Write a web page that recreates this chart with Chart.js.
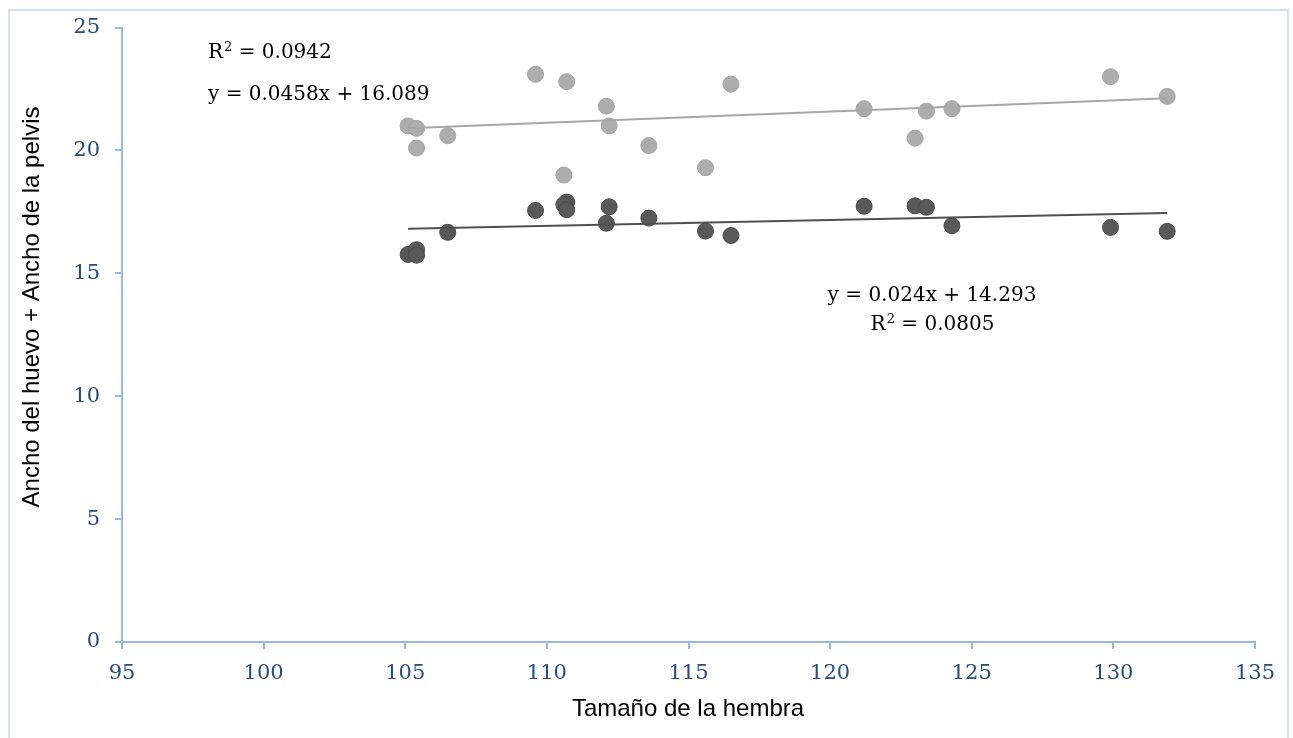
<!DOCTYPE html>
<html>
<head>
<meta charset="utf-8">
<script src="https://cdn.jsdelivr.net/npm/chart.js@4"></script>
<style>
    html, body { margin: 0; padding: 0; background: #ffffff; }
    #wrap { position: relative; width: 1293px; height: 738px; overflow: hidden; }
    #frame { position: absolute; left: 8px; top: 9px; width: 1281px; height: 740px; border: 2px solid #D5E1F0; box-sizing: border-box; }
    #chart { position: absolute; left: 0; top: 0; }
</style>
</head>
<body>
<div id="wrap">
    <div id="frame"></div>
    <canvas id="chart" width="1293" height="738"></canvas>
</div>
<script>
// Tamaño de la hembra (x) for each series
const lightX = [105.1, 105.4, 105.4, 106.5, 109.6, 110.7, 110.6, 112.1, 112.2, 113.6, 115.6, 116.5, 121.2, 123.0, 123.4, 124.3, 129.9, 131.9];
const lightY = [21.0, 20.9, 20.1, 20.6, 23.1, 22.8, 19.0, 21.8, 21.0, 20.2, 19.3, 22.7, 21.7, 20.5, 21.6, 21.7, 23.0, 22.2];

const darkX = [105.1, 105.4, 105.4, 106.5, 109.6, 110.7, 110.6, 110.7, 112.2, 112.1, 113.6, 115.6, 116.5, 121.2, 123.0, 123.4, 124.3, 129.9, 131.9];
const darkY = [15.77, 15.96, 15.74, 16.67, 17.56, 17.90, 17.80, 17.59, 17.71, 17.04, 17.25, 16.72, 16.54, 17.73, 17.75, 17.69, 16.94, 16.87, 16.71];

// trendline coefficients as printed on the chart
const lightFit = [0.0458, 16.089];
const darkFit = [0.024, 14.293];

const xTicks = [95, 100, 105, 110, 115, 120, 125, 130, 135];
const yTicks = [0, 5, 10, 15, 20, 25];

const AXIS_COLOR = '#95B9E5';
const TICK_COLOR = '#244C7E';
const EQ_FONT = '20px "DejaVu Serif"';

function toPoints(xs, ys) {
    return xs.map((x, i) => ({ x: x, y: ys[i] }));
}

function trend(xs, fit) {
    const lo = Math.min(...xs), hi = Math.max(...xs);
    return [{ x: lo, y: fit[0] * lo + fit[1] }, { x: hi, y: fit[0] * hi + fit[1] }];
}

// draws R² with a raised 2
function drawR2(ctx, x, y, value, align) {
    const small = '13px "DejaVu Serif"';
    ctx.font = EQ_FONT;
    const wR = ctx.measureText('R').width;
    const rest = ' = ' + value;
    const wRest = ctx.measureText(rest).width;
    ctx.font = small;
    const w2 = ctx.measureText('2').width;
    let start = x;
    if (align === 'center') start = x - (wR + w2 + wRest) / 2;
    ctx.textAlign = 'left';
    ctx.font = EQ_FONT;
    ctx.fillText('R', start, y);
    ctx.font = small;
    ctx.fillText('2', start + wR + 1, y - 7);
    ctx.font = EQ_FONT;
    ctx.fillText(rest, start + wR + w2 + 1, y);
}

const labelsPlugin = {
    id: 'labels',
    afterDraw(chart) {
        const ctx = chart.ctx;
        ctx.save();
        ctx.fillStyle = '#000000';
        ctx.textBaseline = 'alphabetic';

        // equations
        drawR2(ctx, 208, 58, '0.0942', 'left');
        ctx.font = EQ_FONT;
        ctx.textAlign = 'left';
        ctx.fillText('y = 0.0458x + 16.089', 208, 100);

        ctx.textAlign = 'center';
        ctx.fillText('y = 0.024x + 14.293', 932, 301);
        drawR2(ctx, 932, 330, '0.0805', 'center');

        // axis titles
        ctx.font = '24px "Liberation Sans", Arial, sans-serif';
        ctx.textAlign = 'center';
        ctx.fillText('Tamaño de la hembra', 688, 716);

        ctx.translate(39, 307);
        ctx.rotate(-Math.PI / 2);
        ctx.fillText('Ancho del huevo + Ancho de la pelvis', 0, 0);
        ctx.restore();
    }
};

const ctx = document.getElementById('chart').getContext('2d');

new Chart(ctx, {
    type: 'scatter',
    data: {
        datasets: [{
            label: 'trend light',
            data: trend(lightX, lightFit),
            showLine: true,
            borderColor: '#A6A6A6',
            borderWidth: 2,
            pointRadius: 0,
            order: 0
        }, {
            label: 'trend dark',
            data: trend(darkX, darkFit),
            showLine: true,
            borderColor: '#4F4F4F',
            borderWidth: 2,
            pointRadius: 0,
            order: 0
        }, {
            label: 'light',
            data: toPoints(lightX, lightY),
            backgroundColor: '#ADADAD',
            borderColor: '#A3A3A3',
            borderWidth: 1,
            pointRadius: 8,
            order: 1
        }, {
            label: 'dark',
            data: toPoints(darkX, darkY),
            backgroundColor: '#595959',
            borderColor: '#4A4A4A',
            borderWidth: 1,
            pointRadius: 8,
            order: 1
        }]
    },
    options: {
        responsive: false,
        animation: false,
        devicePixelRatio: 1,
        layout: { padding: { left: 0, top: 27, right: 38, bottom: 0 } },
        plugins: {
            legend: { display: false },
            tooltip: { enabled: false }
        },
        scales: {
            x: {
                type: 'linear',
                min: 95,
                max: 135,
                afterFit: (scale) => { scale.height = 96; },
                afterBuildTicks: (scale) => { scale.ticks = xTicks.map(v => ({ value: v })); },
                border: { color: AXIS_COLOR, width: 2 },
                grid: { drawOnChartArea: false, drawTicks: true, tickLength: 7, color: AXIS_COLOR, lineWidth: 2 },
                ticks: {
                    color: TICK_COLOR,
                    padding: 12,
                    maxRotation: 0,
                    font: { family: '"DejaVu Serif"', size: 21 }
                }
            },
            y: {
                type: 'linear',
                min: 0,
                max: 25,
                afterFit: (scale) => { scale.width = 122; },
                afterBuildTicks: (scale) => { scale.ticks = yTicks.map(v => ({ value: v })); },
                border: { color: AXIS_COLOR, width: 2 },
                grid: { drawOnChartArea: false, drawTicks: true, tickLength: 7, color: AXIS_COLOR, lineWidth: 2 },
                ticks: {
                    color: TICK_COLOR,
                    padding: 15,
                    font: { family: '"DejaVu Serif"', size: 21 }
                }
            }
        }
    },
    plugins: [labelsPlugin]
});
</script>
</body>
</html>
